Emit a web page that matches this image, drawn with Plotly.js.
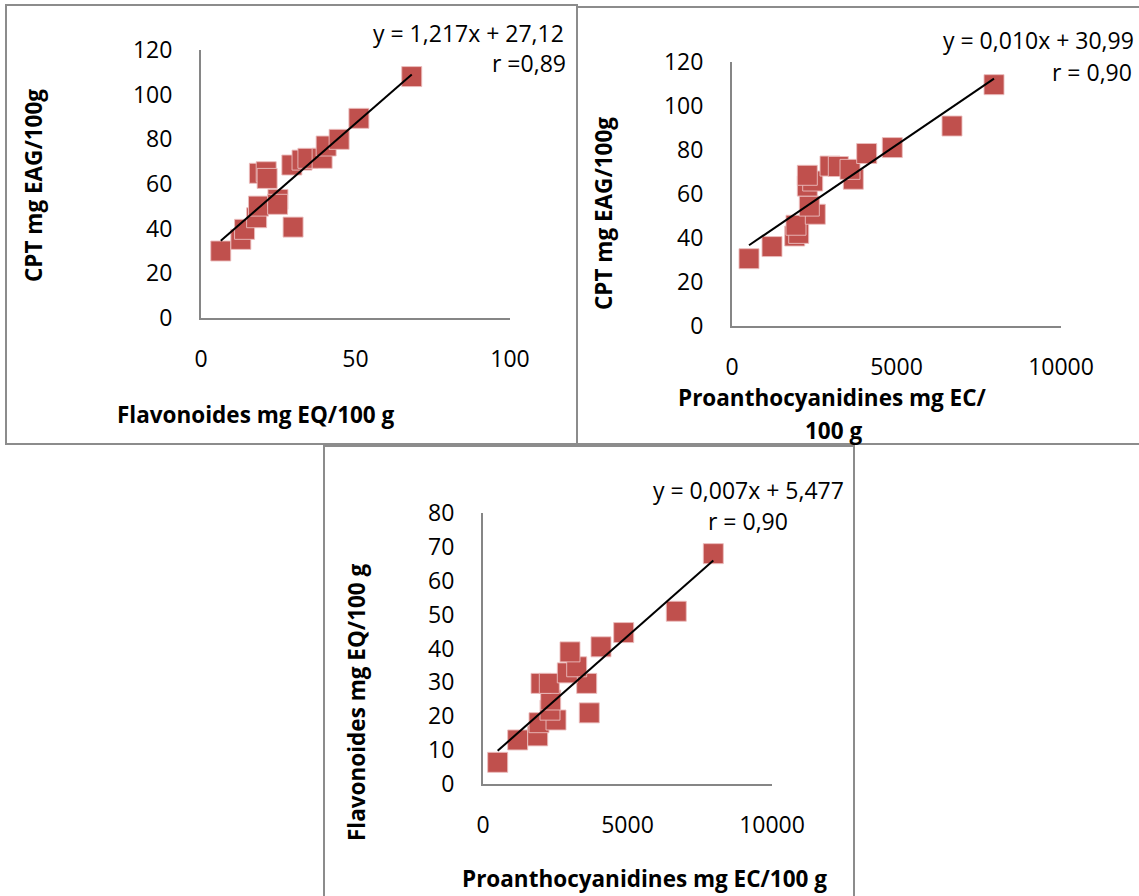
<!DOCTYPE html>
<html><head><meta charset="utf-8">
<script src="https://cdn.plot.ly/plotly-3.0.1.min.js"></script>
<style>html,body{margin:0;padding:0;background:#fff;} #chart{width:1139px;height:896px;}</style>
</head><body><div id="chart"></div>
<script>
// Panel 1: CPT vs Flavonoides
const flav1 = [6.4,12.9,14.1,18.0,18.6,24.9,24.8,18.9,21.1,21.4,29.8,29.4,32.7,34.6,39.2,40.5,44.7,51.1,68.2];
const cpt1  = [30.0,35.2,39.7,44.9,50.1,53.1,50.9,64.8,65.5,62.5,40.7,68.5,70.7,71.5,71.5,77.0,80.0,89.4,108.1];
// Panel 2: CPT vs Proanthocyanidines
const proan2 = [517,1216,1906,2027,1945,2532,2350,2289,2453,2289,2979,3231,3687,3587,4094,4872,6687,7964];
const cpt2   = [30.6,36.1,40.9,42.1,45.8,50.8,54.5,63.6,65.9,68.5,72.7,72.5,66.7,71.2,78.4,81.1,90.9,109.7];
// Panel 3: Flavonoides vs Proanthocyanidines
const proan3 = [508,1200,1892,1938,2526,2318,2342,2007,2294,3678,3588,2917,3242,3010,4083,4868,6688,7969];
const flav3  = [6.4,13.0,14.2,18.1,18.9,21.8,24.8,29.7,29.7,21.0,29.7,32.8,34.6,39.0,40.5,44.7,51.0,68.0];

const eqTexts = ["y = 1,217x + 27,12", "y = 0,010x + 30,99", "y = 0,007x + 5,477"];
const rTexts  = ["r =0,89", "r = 0,90", "r = 0,90"];
const xTitles = ["Flavonoides mg EQ/100 g", "Proanthocyanidines mg EC/", "100 g", "Proanthocyanidines mg EC/100 g"];
const yTitles = ["CPT mg EAG/100g", "CPT mg EAG/100g", "Flavonoides mg EQ/100 g"];

const W = 1139, H = 896;
const px = p => p / W;
const py = p => 1 - p / H;
const FONT = 'Open Sans';
const FS = 23;
const FSB = 22.5;

function fit(xs, ys) {
  const n = xs.length;
  let sx = 0, sy = 0, sxx = 0, sxy = 0;
  for (let i = 0; i < n; i++) { sx += xs[i]; sy += ys[i]; sxx += xs[i]*xs[i]; sxy += xs[i]*ys[i]; }
  const b = (n*sxy - sx*sy) / (n*sxx - sx*sx);
  const a = (sy - b*sx) / n;
  const x0 = Math.min(...xs), x1 = Math.max(...xs);
  return {x: [x0, x1], y: [a + b*x0, a + b*x1]};
}

const markerStyle = {symbol: 'square', size: 20, color: '#C0504D', line: {color: 'rgba(235,190,190,0.9)', width: 1}};

function scatter(xs, ys, xa, ya) {
  return {type: 'scatter', mode: 'markers', x: xs, y: ys, xaxis: xa, yaxis: ya, marker: markerStyle, cliponaxis: false, hoverinfo: 'x+y'};
}
function trend(xs, ys, xa, ya) {
  const f = fit(xs, ys);
  return {type: 'scatter', mode: 'lines', x: f.x, y: f.y, xaxis: xa, yaxis: ya, line: {color: '#000', width: 2}, cliponaxis: false, hoverinfo: 'skip'};
}

const data = [
  scatter(flav1, cpt1, 'x', 'y'), trend(flav1, cpt1, 'x', 'y'),
  scatter(proan2, cpt2, 'x2', 'y2'), trend(proan2, cpt2, 'x2', 'y2'),
  scatter(proan3, flav3, 'x3', 'y3'), trend(proan3, flav3, 'x3', 'y3')
];

function xax(d0, d1, range, dtick, anchor) {
  return {domain: [px(d0), px(d1)], range: range, dtick: dtick, tick0: 0, anchor: anchor,
    showgrid: false, zeroline: false, showline: true, linecolor: '#868686', linewidth: 2,
    tickformat: 'd',
    ticks: '', ticklabelstandoff: 19, tickfont: {family: FONT, size: FS, color: '#000'}, fixedrange: true};
}
function yax(d0, d1, range, dtick, anchor) {
  return {domain: [py(d0), py(d1)], range: range, dtick: dtick, tick0: 0, anchor: anchor,
    showgrid: false, zeroline: false, showline: true, linecolor: '#868686', linewidth: 2,
    tickformat: 'd',
    ticks: '', ticklabelstandoff: 22, tickfont: {family: FONT, size: FS, color: '#000'}, fixedrange: true};
}

function ann(text, x, y, opts) {
  return Object.assign({text: text, x: px(x), y: py(y), xref: 'paper', yref: 'paper', showarrow: false,
    xanchor: 'center', yanchor: 'middle', font: {family: FONT, size: FS, color: '#000'}}, opts || {});
}
function bold(text, x, y, opts) {
  return ann('<b>' + text + '</b>', x, y, Object.assign({font: {family: FONT, size: FSB, color: '#000'}}, opts || {}));
}
function border(x0, y0, x1, y1) {
  return {type: 'rect', xref: 'paper', yref: 'paper', x0: px(x0), x1: px(x1), y0: py(y0), y1: py(y1),
    line: {color: '#8c8c8c', width: 2}, fillcolor: 'rgba(0,0,0,0)', layer: 'below'};
}

const layout = {
  width: W, height: H, autosize: false, showlegend: false,
  margin: {l: 0, r: 0, t: 0, b: 0, pad: 0},
  paper_bgcolor: '#fff', plot_bgcolor: 'rgba(0,0,0,0)',
  xaxis: xax(201, 510, [0, 100], 50, 'y'),
  yaxis: yax(318, 50, [0, 120], 20, 'x'),
  xaxis2: xax(732, 1061, [0, 10000], 5000, 'y2'),
  yaxis2: yax(326, 62, [0, 120], 20, 'x2'),
  xaxis3: xax(483, 772, [0, 10000], 5000, 'y3'),
  yaxis3: yax(784, 513, [0, 80], 10, 'x3'),
  shapes: [
    border(6, 5, 577, 444),
    border(577, 7, 1145, 444),
    border(324, 446, 854, 900)
  ],
  annotations: [
    ann(eqTexts[0], 566, 33, {xanchor: 'right'}),
    ann(rTexts[0], 568, 63, {xanchor: 'right'}),
    ann(eqTexts[1], 1136, 40, {xanchor: 'right'}),
    ann(rTexts[1], 1134, 72, {xanchor: 'right'}),
    ann(eqTexts[2], 748, 490),
    ann(rTexts[2], 748, 521),
    bold(xTitles[0], 256, 414),
    bold(xTitles[1], 832, 397),
    bold(xTitles[2], 833, 430),
    bold(xTitles[3], 644, 878),
    bold(yTitles[0], 33, 186, {textangle: -90}),
    bold(yTitles[1], 603, 214, {textangle: -90}),
    bold(yTitles[2], 356, 702, {textangle: -90})
  ]
};

Plotly.newPlot('chart', data, layout, {displayModeBar: false, staticPlot: true});
</script>
</body></html>
